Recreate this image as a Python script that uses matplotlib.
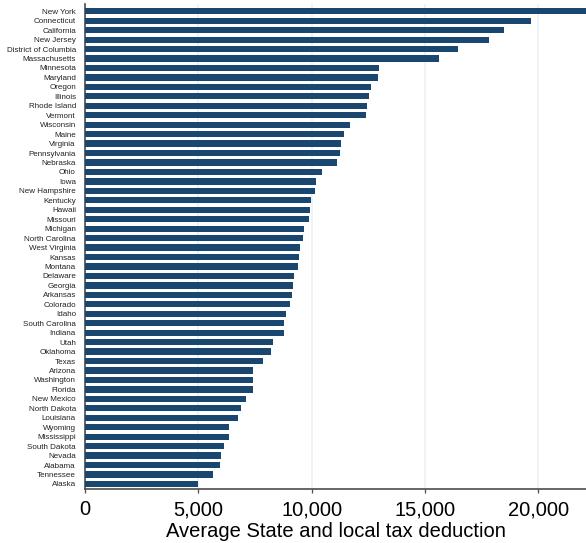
import matplotlib.pyplot as plt
import numpy as np

plt.rcParams["font.family"] = ["Liberation Sans", "DejaVu Sans"]

states = [
    "New York", "Connecticut", "California", "New Jersey", "District of Columbia",
    "Massachusetts", "Minnesota", "Maryland", "Oregon", "Illinois", "Rhode Island",
    "Vermont", "Wisconsin", "Maine", "Virginia", "Pennsylvania", "Nebraska", "Ohio",
    "Iowa", "New Hampshire", "Kentucky", "Hawaii", "Missouri", "Michigan",
    "North Carolina", "West Virginia", "Kansas", "Montana", "Delaware", "Georgia",
    "Arkansas", "Colorado", "Idaho", "South Carolina", "Indiana", "Utah", "Oklahoma",
    "Texas", "Arizona", "Washington", "Florida", "New Mexico", "North Dakota",
    "Louisiana", "Wyoming", "Mississippi", "South Dakota", "Nevada", "Alabama",
    "Tennessee", "Alaska",
]
deduction = [
    22600, 19670, 18480, 17830, 16460,
    15600, 12990, 12940, 12630, 12550, 12460,
    12410, 11670, 11440, 11300, 11260, 11120, 10460,
    10200, 10160, 9980, 9930, 9900, 9670,
    9620, 9490, 9450, 9400, 9220, 9190,
    9140, 9060, 8880, 8800, 8780, 8310, 8210,
    7850, 7420, 7420, 7410, 7110, 6890,
    6760, 6350, 6340, 6130, 6010, 5950,
    5650, 4980,
]
x_ticks = [0, 5000, 10000, 15000, 20000]

bar_color = "#1a476f"
grid_color = "#eaf2f3"
axis_color = "#4d4d4d"

fig = plt.figure(figsize=(5.86, 5.43), dpi=100)
ax = fig.add_axes([0.145, 0.099, 0.855, 0.894])

pos = np.arange(len(states))
ax.barh(pos, deduction, height=0.66, color=bar_color, zorder=3)

ax.set_xlim(0, 22100)
ax.set_ylim(len(states) - 0.44, -0.79)
ax.set_yticks(pos)
ax.set_yticklabels(states, fontsize=5.8, color="#222222")
ax.set_xticks(x_ticks)
ax.set_xticklabels([f"{v:,}" for v in x_ticks], fontsize=14.5)
ax.set_xlabel("Average State and local tax deduction", fontsize=14.5, labelpad=2)

ax.grid(axis="x", color=grid_color, linewidth=1.2, zorder=0)
for side in ("top", "right"):
    ax.spines[side].set_visible(False)
for side in ("left", "bottom"):
    ax.spines[side].set_color(axis_color)
    ax.spines[side].set_linewidth(1.2)
ax.tick_params(axis="y", length=0, pad=6.5)
ax.tick_params(axis="x", length=3, width=0.9, pad=5, color=axis_color)

fig.savefig("out.png", dpi=100)
